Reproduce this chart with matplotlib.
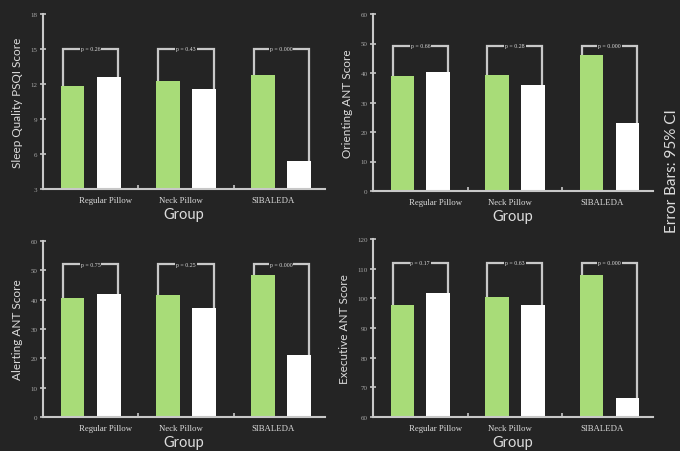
import matplotlib
matplotlib.use('Agg')
import matplotlib.pyplot as plt
import numpy as np

groups = ['Regular Pillow', 'Neck Pillow', 'SIBALEDA']

psqi_before = [11.8, 12.3, 12.8]
psqi_after = [12.6, 11.6, 5.4]
psqi_p = ['p = 0.26', 'p = 0.43', 'p = 0.000']

orient_before = [39.0, 39.3, 46.0]
orient_after = [40.3, 35.9, 23.0]
orient_p = ['p = 0.66', 'p = 0.28', 'p = 0.000']

alert_before = [40.7, 41.6, 48.4]
alert_after = [42.0, 37.3, 21.1]
alert_p = ['p = 0.75', 'p = 0.25', 'p = 0.000']

exec_before = [97.7, 100.3, 108.0]
exec_after = [101.8, 97.8, 66.3]
exec_p = ['p = 0.17', 'p = 0.63', 'p = 0.000']

bg = '#242424'
green = '#a8dc78'
grey = '#c8c8c8'
txt = '#dcdcdc'

fig = plt.figure(figsize=(6.8, 4.52), dpi=100, facecolor=bg)

W, H = 680.0, 452.0


def box(x0, x1, y0, y1):
    return [x0 / W, 1 - y1 / H, (x1 - x0) / W, (y1 - y0) / H]


panels = [
    (box(43, 325, 15, 190), psqi_before, psqi_after, psqi_p,
     'Sleep Quality PSQI Score', (3, 18), 3, 15.0),
    (box(373, 653, 15, 192), orient_before, orient_after, orient_p,
     'Orienting ANT Score', (0, 60), 10, 49.3),
    (box(43, 325, 242, 418), alert_before, alert_after, alert_p,
     'Alerting ANT Score', (0, 60), 10, 52.0),
    (box(373, 653, 240, 418), exec_before, exec_after, exec_p,
     'Executive ANT Score', (60, 120), 10, 112.0),
]

x = np.arange(len(groups))
off = 0.19
bw = 0.25

for rect, before, after, pvals, ylab, ylim, step, top in panels:
    ax = fig.add_axes(rect)
    ax.set_facecolor(bg)
    base = ylim[0]
    ax.bar(x - off, np.array(before) - base, bw, bottom=base,
           color=green, edgecolor='none')
    ax.bar(x + off, np.array(after) - base, bw, bottom=base,
           color='white', edgecolor='none')

    for i in range(len(groups)):
        xl = x[i] - 0.29
        xr = x[i] + 0.29
        ax.plot([xl, xl, xr, xr], [before[i], top, top, after[i]],
                color=grey, lw=1.6, solid_joinstyle='miter',
                solid_capstyle='butt')
        ax.text(x[i], top, pvals[i], ha='center', va='center',
                fontsize=4.2, color=txt, family='Liberation Serif',
                bbox=dict(facecolor=bg, edgecolor='none', pad=0.6))

    ax.set_xlim(-0.5, 2.46)
    ax.set_ylim(*ylim)
    ax.set_yticks(np.arange(ylim[0], ylim[1] + 0.1, step))
    ax.set_xticks([0.16, 0.95, 1.92])
    ax.set_xticklabels(groups, family='Liberation Serif', fontsize=6.3,
                       color=txt)
    ax.set_xticks([0.5, 1.5], minor=True)
    ax.tick_params(axis='x', which='major', length=0, pad=5)
    ax.tick_params(axis='x', which='minor', length=3, direction='in',
                   color=grey, width=1.2)
    ax.tick_params(axis='y', length=4, direction='inout', color=grey,
                   width=1.2, labelsize=5, labelcolor='#a8a8a8', pad=2)
    for lbl in ax.get_yticklabels():
        lbl.set_family('Liberation Serif')

    for s in ['top', 'right']:
        ax.spines[s].set_visible(False)
    for s in ['left', 'bottom']:
        ax.spines[s].set_color(grey)
        ax.spines[s].set_linewidth(1.5)

    ax.set_ylabel(ylab, color=txt, fontsize=8.5, family='Lato', labelpad=5)
    ax.set_xlabel('Group', color=txt, fontsize=10.5, family='Lato',
                  labelpad=2)

fig.text(672 / W, 1 - 171 / H, 'Error Bars: 95% CI', rotation=90,
         ha='center', va='center', color=txt, fontsize=11, family='Lato')

fig.savefig('out.png', dpi=100, facecolor=bg)
